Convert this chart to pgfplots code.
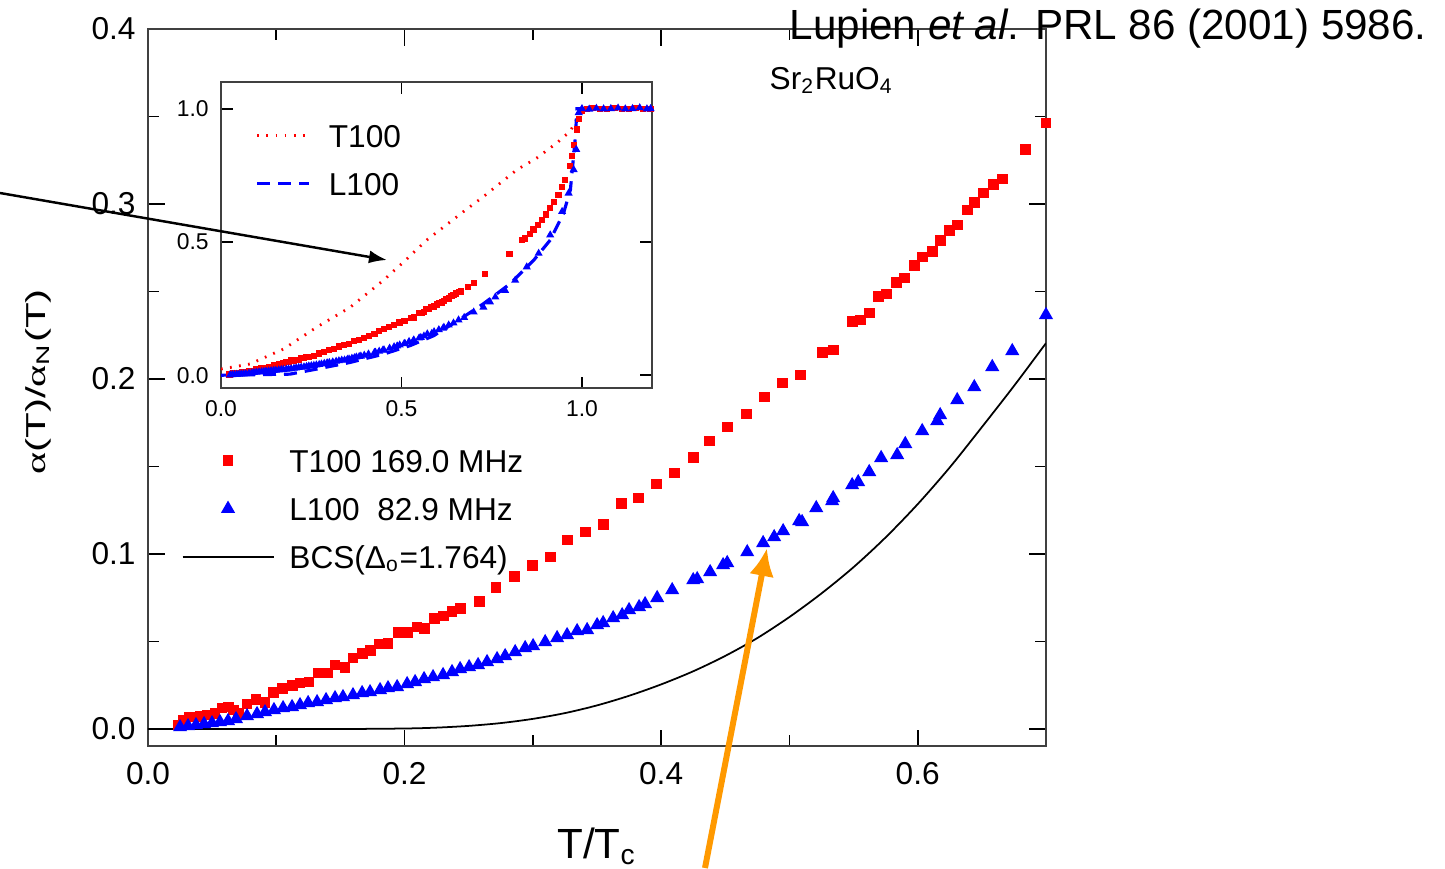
\documentclass[border=0pt]{standalone}
\usepackage{fontspec}
\setmainfont{Liberation Sans}
\newfontfamily\symf{Liberation Serif}
\usepackage{pgfplots}
\usepackage{pgfplotstable}
\pgfplotsset{compat=1.18}
\usetikzlibrary{arrows.meta}

\definecolor{datred}{RGB}{255,0,0}
\definecolor{datblue}{RGB}{0,0,255}
\definecolor{arrorange}{RGB}{255,153,0}

\pgfplotsset{
  markleg/.style={legend image code/.code={\path[draw=none] (0mm,0mm) -- (9.1mm,0mm);
    \path[##1, draw=none, only marks, mark repeat=2, mark phase=2] plot coordinates {(0mm,0mm) (4.55mm,0mm) (9.1mm,0mm)};}},
  lineleg/.style={legend image code/.code={\draw[##1] (0mm,0mm) -- (#1,0mm);}},
}

% T100, 169.0 MHz
\pgfplotstableread{
x y
0.0234 0.0023
0.0273 0.0051
0.0327 0.0069
0.0405 0.0074
0.0460 0.0080
0.0522 0.0091
0.0577 0.0120
0.0624 0.0126
0.0663 0.0109
0.0702 0.0091
0.0772 0.0143
0.0842 0.0171
0.0912 0.0154
0.0975 0.0211
0.1045 0.0234
0.1123 0.0251
0.1185 0.0263
0.1255 0.0269
0.1326 0.0320
0.1396 0.0320
0.1458 0.0366
0.1536 0.0354
0.1598 0.0406
0.1669 0.0434
0.1731 0.0451
0.1801 0.0486
0.1871 0.0491
0.1949 0.0549
0.2020 0.0549
0.2097 0.0583
0.2152 0.0577
0.2230 0.0634
0.2300 0.0646
0.2370 0.0669
0.2433 0.0691
0.2581 0.0731
0.2713 0.0811
0.2854 0.0869
0.2994 0.0937
0.3135 0.0983
0.3267 0.1080
0.3407 0.1126
0.3548 0.1171
0.3688 0.1291
0.3821 0.1320
0.3961 0.1400
0.4101 0.1463
0.4250 0.1554
0.4374 0.1646
0.4515 0.1726
0.4663 0.1800
0.4803 0.1897
0.4944 0.1977
0.5084 0.2023
0.5255 0.2149
0.5341 0.2166
0.5489 0.2331
0.5552 0.2337
0.5622 0.2377
0.5692 0.2469
0.5754 0.2486
0.5832 0.2549
0.5895 0.2577
0.5973 0.2651
0.6035 0.2697
0.6113 0.2731
0.6175 0.2789
0.6246 0.2851
0.6308 0.2880
0.6386 0.2966
0.6441 0.3011
0.6511 0.3063
0.6589 0.3109
0.6659 0.3143
0.6838 0.3314
0.7000 0.3463
}\tred

% L100, 82.9 MHz
\pgfplotstableread{
x y
0.0250 0.0011
0.0312 0.0017
0.0374 0.0023
0.0437 0.0029
0.0499 0.0034
0.0561 0.0040
0.0624 0.0046
0.0686 0.0057
0.0772 0.0074
0.0850 0.0086
0.0912 0.0097
0.0982 0.0109
0.1053 0.0120
0.1123 0.0126
0.1185 0.0137
0.1248 0.0149
0.1318 0.0154
0.1388 0.0166
0.1458 0.0177
0.1520 0.0183
0.1598 0.0194
0.1669 0.0206
0.1731 0.0211
0.1809 0.0223
0.1871 0.0234
0.1942 0.0240
0.2020 0.0257
0.2082 0.0269
0.2152 0.0286
0.2222 0.0297
0.2300 0.0309
0.2370 0.0326
0.2433 0.0343
0.2503 0.0354
0.2573 0.0366
0.2643 0.0383
0.2721 0.0400
0.2784 0.0417
0.2862 0.0440
0.2940 0.0463
0.3002 0.0474
0.3096 0.0497
0.3189 0.0520
0.3267 0.0537
0.3345 0.0560
0.3423 0.0566
0.3501 0.0594
0.3548 0.0606
0.3626 0.0634
0.3696 0.0651
0.3750 0.0680
0.3828 0.0697
0.3875 0.0714
0.3969 0.0749
0.4086 0.0794
0.4250 0.0851
0.4281 0.0857
0.4382 0.0897
0.4483 0.0937
0.4515 0.0949
0.4671 0.1011
0.4795 0.1063
0.4881 0.1097
0.4951 0.1131
0.5076 0.1189
0.5099 0.1183
0.5209 0.1263
0.5333 0.1303
0.5341 0.1320
0.5489 0.1394
0.5536 0.1411
0.5622 0.1469
0.5715 0.1549
0.5840 0.1566
0.5903 0.1629
0.6035 0.1703
0.6152 0.1760
0.6175 0.1794
0.6308 0.1880
0.6441 0.1954
0.6581 0.2069
0.6737 0.2160
0.7000 0.2366
}\tblue

% BCS, Delta_0 = 1.764
\pgfplotstableread{
x y
0.000 0.0000
0.100 0.0000
0.150 0.0000
0.200 0.0003
0.225 0.0008
0.250 0.0018
0.275 0.0034
0.300 0.0058
0.325 0.0091
0.350 0.0135
0.375 0.0190
0.400 0.0255
0.425 0.0330
0.450 0.0418
0.475 0.0520
0.500 0.0640
0.525 0.0775
0.550 0.0925
0.575 0.1095
0.600 0.1285
0.625 0.1495
0.650 0.1725
0.675 0.1960
0.700 0.2205
}\tbcs

% inset: points above T/Tc = 0.7
\pgfplotstableread{
x y
0.732 0.381
0.799 0.454
0.834 0.507
0.843 0.513
0.855 0.530
0.866 0.547
0.878 0.563
0.889 0.582
0.900 0.603
0.912 0.626
0.923 0.651
0.935 0.677
0.945 0.705
0.954 0.733
0.966 0.784
0.972 0.821
0.979 0.865
0.986 0.922
0.991 0.960
1.000 0.991
1.014 1.000
1.030 1.002
1.050 0.998
1.070 1.000
1.090 1.001
1.110 0.999
1.130 1.000
1.150 1.003
1.170 0.998
1.190 1.000
}\tredhi

\pgfplotstableread{
x y
0.727 0.255
0.745 0.275
0.760 0.293
0.787 0.318
0.815 0.356
0.847 0.406
0.880 0.457
0.912 0.526
0.945 0.614
0.963 0.683
0.977 0.771
0.984 0.847
0.991 0.985
1.000 1.000
1.020 0.998
1.040 1.001
1.060 0.999
1.080 1.000
1.100 1.002
1.120 0.999
1.140 1.000
1.160 1.003
1.180 0.999
1.190 1.000
}\tbluehi

\pgfplotstableread{
x y
0.000 0.023
0.080 0.042
0.173 0.098
0.265 0.180
0.358 0.255
0.450 0.356
0.506 0.425
0.570 0.507
0.672 0.614
0.727 0.670
0.820 0.771
0.875 0.815
0.931 0.872
0.968 0.916
0.995 0.985
1.004 1.000
1.195 1.000
}\tredline

\pgfplotstableread{
x y
0.000 0.000
0.191 0.004
0.265 0.023
0.358 0.048
0.450 0.079
0.524 0.111
0.589 0.148
0.663 0.211
0.727 0.268
0.801 0.343
0.866 0.431
0.912 0.507
0.949 0.608
0.968 0.696
0.982 0.897
0.986 1.000
1.195 1.000
}\tblueline

\begin{document}
\begin{tikzpicture}
\begin{axis}[
  at={(14.8mm,12.2mm)}, anchor=south west,
  width=89.8mm, height=71.7mm, scale only axis,
  xmin=0, xmax=0.7, ymin=-0.0097, ymax=0.4,
  xtick={0,0.2,0.4,0.6}, xticklabels={0.0,0.2,0.4,0.6},
  minor xtick={0.1,0.3,0.5},
  ytick={0,0.1,0.2,0.3,0.4}, yticklabels={0.0,0.1,0.2,0.3,0.4},
  minor ytick={0.05,0.15,0.25,0.35},
  tick align=inside, major tick length=1.65mm, minor tick length=1.1mm,
  every tick/.style={black, line width=0.5pt},
  axis line style={black!75, line width=0.8pt},
  tick label style={font=\fontsize{9}{10}\selectfont},
  xticklabel style={yshift=-0.4mm},
  xlabel={T/T\textsubscript{c}},
  xlabel style={font=\fontsize{12}{14}\selectfont, at={(axis description cs:0.5,0)}, anchor=base, yshift=-11.2mm},
  ylabel={\scalebox{1}[0.65]{{\symf α}(T)/{\symf α}\textsubscript{N}(T)}},
  ylabel style={font=\fontsize{12}{14}\selectfont, at={(axis description cs:-0.1225,0.5077)}, anchor=center},
  legend style={draw=none, fill=none, inner sep=0pt, at={(0.0367,0.4149)}, anchor=north west,
    font=\fontsize{9}{10}\selectfont, row sep=2.5mm,
    nodes={inner sep=0pt, text height=2.3mm, text depth=0pt},
    /tikz/every odd column/.append style={column sep=1.5mm}},
  legend cell align=left,
]
\addplot[only marks, mark=square*, mark size=0.475mm, mark options={draw=none, fill=datred}, datred, markleg]
  table[x=x, y=y] {\tred};
\addlegendentry{T100 169.0 MHz}
\addplot[only marks, mark=triangle*, mark size=0.675mm, mark options={draw=none, fill=datblue}, datblue, markleg]
  table[x=x, y=y] {\tblue};
\addlegendentry{L100~~82.9 MHz}
\addplot[black, line width=0.5pt, smooth, no marks, lineleg=9.1mm]
  table[x=x, y=y] {\tbcs};
\addlegendentry{BCS(Δ\textsubscript{o}=1.764)}
\end{axis}

\begin{axis}[
  at={(22.1mm,48.0mm)}, anchor=south west,
  width=43.1mm, height=30.6mm, scale only axis,
  xmin=0, xmax=1.194, ymin=-0.048, ymax=1.1,
  xtick={0,0.5,1}, xticklabels={0.0,0.5,1.0},
  ytick={0,0.5,1}, yticklabels={0.0,0.5,1.0},
  tick align=inside, major tick length=1.15mm,
  every tick/.style={black, line width=0.5pt},
  axis line style={black!75, line width=0.7pt},
  tick label style={font=\fontsize{6.5}{7}\selectfont},
  legend style={draw=none, fill=none, inner sep=0pt, at={(0.0789,0.8645)}, anchor=north west,
    font=\fontsize{9}{10}\selectfont, row sep=2.5mm,
    nodes={inner sep=0pt, text height=2.3mm, text depth=0pt},
    /tikz/every odd column/.append style={column sep=1.8mm}},
  legend cell align=left,
]
\addplot[datred, line width=0.8pt, dash pattern=on 0.5pt off 2.1pt, no marks, lineleg=5.2mm]
  table[x=x, y=y] {\tredline};
\addlegendentry{T100}
\addplot[datblue, line width=0.9pt, dash pattern=on 1.3mm off 0.8mm, no marks, lineleg=5.2mm]
  table[x=x, y=y] {\tblueline};
\addlegendentry{L100}
\addplot[forget plot, datred, only marks, mark=square*, mark size=0.24mm, mark options={draw=none, fill=datred}]
  table[x=x, y=y] {\tred};
\addplot[forget plot, datred, only marks, mark=square*, mark size=0.24mm, mark options={draw=none, fill=datred}]
  table[x=x, y=y] {\tredhi};
\addplot[forget plot, datblue, only marks, mark=triangle*, mark size=0.33mm, mark options={draw=none, fill=datblue}]
  table[x=x, y=y] {\tblue};
\addplot[forget plot, datblue, only marks, mark=triangle*, mark size=0.33mm, mark options={draw=none, fill=datblue}]
  table[x=x, y=y] {\tbluehi};
\end{axis}

\node[anchor=base west, inner sep=0pt, font=\fontsize{12}{14}\selectfont] at (78.9mm,82.8mm)
  {Lupien \textit{et al}. PRL 86 (2001) 5986.};
\node[anchor=base west, inner sep=0pt, font=\fontsize{9}{10}\selectfont] at (76.9mm,77.8mm)
  {Sr\textsubscript{2}RuO\textsubscript{4}};

\draw[-{Latex[length=1.8mm,width=1.3mm]}, line width=0.7pt] (0mm,67.5mm) -- (38.7mm,60.8mm);
\draw[-{Latex[length=2.8mm,width=2.5mm]}, line width=1.7pt, arrorange] (70.5mm,0mm) -- (76.7mm,32.0mm);

\pgfresetboundingbox
\path (0mm,0mm) rectangle (144.5mm,86.8mm);
\end{tikzpicture}
\end{document}
